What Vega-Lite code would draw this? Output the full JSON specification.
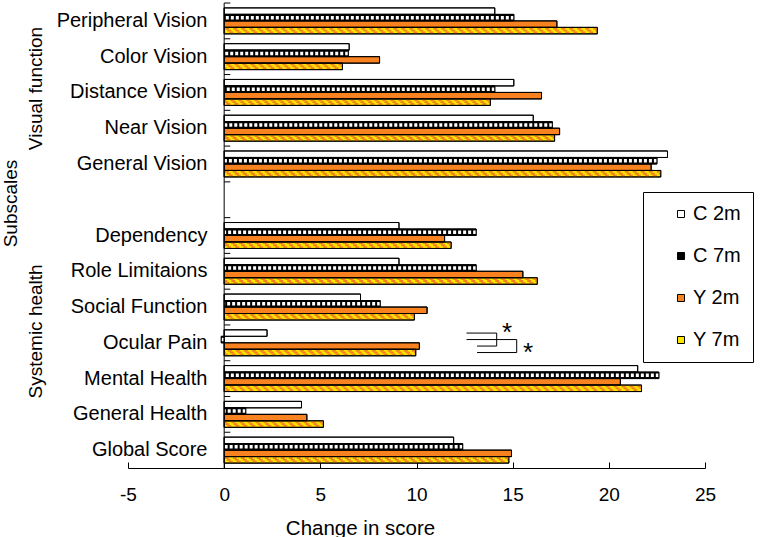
{
  "$schema": "https://vega.github.io/schema/vega-lite/v6.json",
  "width": 577,
  "height": 465,
  "autosize": {"type": "none"},
  "padding": {"left": 128, "top": 3, "right": 63, "bottom": 69},
  "background": "white",
  "config": {
    "view": {"stroke": null},
    "font": "Liberation Sans",
    "axis": {"labelColor": "black", "titleColor": "black", "domainColor": "black", "tickColor": "black", "grid": false, "labelFont": "Liberation Sans", "titleFont": "Liberation Sans"}
  },
  "datasets": {
    "scores": [
      {"subscale": "Peripheral Vision", "group": "C 2m", "change": 14.07},
      {"subscale": "Peripheral Vision", "group": "C 7m", "change": 15.06},
      {"subscale": "Peripheral Vision", "group": "Y 2m", "change": 17.3},
      {"subscale": "Peripheral Vision", "group": "Y 7m", "change": 19.4},
      {"subscale": "Color Vision", "group": "C 2m", "change": 6.5},
      {"subscale": "Color Vision", "group": "C 7m", "change": 6.45},
      {"subscale": "Color Vision", "group": "Y 2m", "change": 8.08},
      {"subscale": "Color Vision", "group": "Y 7m", "change": 6.15},
      {"subscale": "Distance Vision", "group": "C 2m", "change": 15.06},
      {"subscale": "Distance Vision", "group": "C 7m", "change": 14.07},
      {"subscale": "Distance Vision", "group": "Y 2m", "change": 16.5},
      {"subscale": "Distance Vision", "group": "Y 7m", "change": 13.84},
      {"subscale": "Near Vision", "group": "C 2m", "change": 16.07},
      {"subscale": "Near Vision", "group": "C 7m", "change": 17.06},
      {"subscale": "Near Vision", "group": "Y 2m", "change": 17.44},
      {"subscale": "Near Vision", "group": "Y 7m", "change": 17.18},
      {"subscale": "General Vision", "group": "C 2m", "change": 23.05},
      {"subscale": "General Vision", "group": "C 7m", "change": 22.5},
      {"subscale": "General Vision", "group": "Y 2m", "change": 22.2},
      {"subscale": "General Vision", "group": "Y 7m", "change": 22.7},
      {"subscale": "Dependency", "group": "C 2m", "change": 9.09},
      {"subscale": "Dependency", "group": "C 7m", "change": 13.1},
      {"subscale": "Dependency", "group": "Y 2m", "change": 11.46},
      {"subscale": "Dependency", "group": "Y 7m", "change": 11.8},
      {"subscale": "Role Limitaions", "group": "C 2m", "change": 9.09},
      {"subscale": "Role Limitaions", "group": "C 7m", "change": 13.1},
      {"subscale": "Role Limitaions", "group": "Y 2m", "change": 15.53},
      {"subscale": "Role Limitaions", "group": "Y 7m", "change": 16.28},
      {"subscale": "Social Function", "group": "C 2m", "change": 7.09},
      {"subscale": "Social Function", "group": "C 7m", "change": 8.11},
      {"subscale": "Social Function", "group": "Y 2m", "change": 10.55},
      {"subscale": "Social Function", "group": "Y 7m", "change": 9.89},
      {"subscale": "Ocular Pain", "group": "C 2m", "change": 2.23},
      {"subscale": "Ocular Pain", "group": "C 7m", "change": -0.15},
      {"subscale": "Ocular Pain", "group": "Y 2m", "change": 10.15},
      {"subscale": "Ocular Pain", "group": "Y 7m", "change": 9.96},
      {"subscale": "Mental Health", "group": "C 2m", "change": 21.5},
      {"subscale": "Mental Health", "group": "C 7m", "change": 22.6},
      {"subscale": "Mental Health", "group": "Y 2m", "change": 20.6},
      {"subscale": "Mental Health", "group": "Y 7m", "change": 21.7},
      {"subscale": "General Health", "group": "C 2m", "change": 4.02},
      {"subscale": "General Health", "group": "C 7m", "change": 1.12},
      {"subscale": "General Health", "group": "Y 2m", "change": 4.3},
      {"subscale": "General Health", "group": "Y 7m", "change": 5.16},
      {"subscale": "Global Score", "group": "C 2m", "change": 11.93},
      {"subscale": "Global Score", "group": "C 7m", "change": 12.4},
      {"subscale": "Global Score", "group": "Y 2m", "change": 14.94},
      {"subscale": "Global Score", "group": "Y 7m", "change": 14.8}
    ],
    "rows": [
      {"subscale": "Peripheral Vision"}, {"subscale": "Color Vision"}, {"subscale": "Distance Vision"}, {"subscale": "Near Vision"}, {"subscale": "General Vision"}, {"subscale": " "}, {"subscale": "Dependency"}, {"subscale": "Role Limitaions"}, {"subscale": "Social Function"}, {"subscale": "Ocular Pain"}, {"subscale": "Mental Health"}, {"subscale": "General Health"}, {"subscale": "Global Score"}
    ],
    "brackets": [
      {"pair": "2m", "step": 1, "subscale": "Ocular Pain", "group": "C 2m", "change": 12.6},
      {"pair": "2m", "step": 2, "subscale": "Ocular Pain", "group": "C 2m", "change": 14.17},
      {"pair": "2m", "step": 3, "subscale": "Ocular Pain", "group": "Y 2m", "change": 14.17},
      {"pair": "2m", "step": 4, "subscale": "Ocular Pain", "group": "Y 2m", "change": 13.15},
      {"pair": "7m", "step": 1, "subscale": "Ocular Pain", "group": "C 7m", "change": 12.6},
      {"pair": "7m", "step": 2, "subscale": "Ocular Pain", "group": "C 7m", "change": 15.21},
      {"pair": "7m", "step": 3, "subscale": "Ocular Pain", "group": "Y 7m", "change": 15.21},
      {"pair": "7m", "step": 4, "subscale": "Ocular Pain", "group": "Y 7m", "change": 13.15}
    ],
    "stars": [
      {"subscale": "Ocular Pain", "group": "C 2m", "change": 14.71, "mark": "*"},
      {"subscale": "Ocular Pain", "group": "Y 7m", "change": 15.8, "mark": "*"}
    ]
  },
  "layer": [
    {
      "data": {"name": "scores"},
      "mark": {"type": "bar", "stroke": "black", "strokeWidth": 1},
      "encoding": {
        "y": {
          "field": "subscale", "type": "nominal",
          "scale": {"domain": ["Peripheral Vision", "Color Vision", "Distance Vision", "Near Vision", "General Vision", " ", "Dependency", "Role Limitaions", "Social Function", "Ocular Pain", "Mental Health", "General Health", "Global Score"], "paddingInner": 0.274, "paddingOuter": 0.137},
          "axis": {"title": "Subscales", "offset": -96, "domain": false, "ticks": false, "labelPadding": 17, "labelFontSize": 20, "labelLimit": 300, "titleFontSize": 19, "titleFontWeight": "normal", "titleX": -214, "titleY": 200, "titleAngle": 270, "titleAlign": "center", "titleBaseline": "middle"}
        },
        "yOffset": {"field": "group", "type": "nominal", "scale": {"domain": ["C 2m", "C 7m", "Y 2m", "Y 7m"], "paddingInner": 0, "paddingOuter": 0}},
        "x": {
          "field": "change", "type": "quantitative",
          "scale": {"domain": [-5, 25], "nice": false, "zero": false},
          "axis": {"title": "Change in score", "values": [-5, 0, 5, 10, 15, 20, 25], "labelExpr": "datum.value", "tickSize": -6, "labelPadding": 23, "labelFontSize": 19, "labelFlush": false, "labelOverlap": false, "titleFontSize": 20.5, "titleFontWeight": "normal", "titleX": 232, "titleY": 60, "titleBaseline": "middle"}
        },
        "x2": {"datum": 0},
        "fill": {
          "field": "group", "type": "nominal",
          "scale": {"domain": ["C 2m", "C 7m", "Y 2m", "Y 7m"], "range": ["white", "black", "#F7821F", "#FFE600"]},
          "legend": {"title": null, "orient": "none", "legendX": 515, "legendY": 189, "strokeColor": "black", "fillColor": "white", "padding": 12, "symbolType": "square", "symbolSize": 49, "symbolStrokeColor": "black", "symbolStrokeWidth": 1, "symbolOffset": 16, "labelFontSize": 20, "labelColor": "black", "labelOffset": 2, "rowPadding": 22, "labelExpr": "datum.label + '    '"}
        }
      }
    },
    {
      "data": {"name": "scores"},
      "transform": [{"filter": "datum.group === 'C 7m'"}],
      "mark": {"type": "rule", "stroke": "white", "strokeWidth": 3.5, "strokeDash": [3, 2], "strokeDashOffset": 0},
      "encoding": {
        "y": {"field": "subscale", "type": "nominal"},
        "yOffset": {"field": "group", "type": "nominal"},
        "x": {"field": "change", "type": "quantitative"},
        "x2": {"datum": 0}
      }
    },
    {
      "data": {"name": "scores"},
      "transform": [{"filter": "datum.group === 'Y 7m'"}],
      "mark": {"type": "rule", "stroke": "#F0821E", "strokeWidth": 1.9, "strokeDash": [4, 4], "strokeDashOffset": 0, "yOffset": 7.9},
      "encoding": {"y": {"field": "subscale", "type": "nominal"}, "x": {"field": "change", "type": "quantitative"}, "x2": {"datum": 0}}
    },
    {
      "data": {"name": "scores"},
      "transform": [{"filter": "datum.group === 'Y 7m'"}],
      "mark": {"type": "rule", "stroke": "#F0821E", "strokeWidth": 1.9, "strokeDash": [4, 4], "strokeDashOffset": 2, "yOffset": 9.75},
      "encoding": {"y": {"field": "subscale", "type": "nominal"}, "x": {"field": "change", "type": "quantitative"}, "x2": {"datum": 0}}
    },
    {
      "data": {"name": "scores"},
      "transform": [{"filter": "datum.group === 'Y 7m'"}],
      "mark": {"type": "rule", "stroke": "#F0821E", "strokeWidth": 1.9, "strokeDash": [4, 4], "strokeDashOffset": 4, "yOffset": 11.6},
      "encoding": {"y": {"field": "subscale", "type": "nominal"}, "x": {"field": "change", "type": "quantitative"}, "x2": {"datum": 0}}
    },
    {
      "data": {"name": "scores"},
      "mark": {"type": "bar", "fill": "transparent", "stroke": "black", "strokeWidth": 1},
      "encoding": {
        "y": {"field": "subscale", "type": "nominal"},
        "yOffset": {"field": "group", "type": "nominal"},
        "x": {"field": "change", "type": "quantitative"},
        "x2": {"datum": 0}
      }
    },
    {
      "data": {"values": [{"zero": 0}]},
      "mark": {"type": "rule", "color": "black", "strokeWidth": 1},
      "encoding": {"x": {"field": "zero", "type": "quantitative"}}
    },
    {
      "data": {"name": "rows"},
      "mark": {"type": "rule", "color": "black", "strokeWidth": 1},
      "encoding": {
        "y": {"field": "subscale", "type": "nominal", "bandPosition": -0.188},
        "x": {"datum": 0},
        "x2": {"datum": 0.32}
      }
    },
    {
      "data": {"name": "brackets"},
      "mark": {"type": "line", "color": "black", "strokeWidth": 1},
      "encoding": {
        "y": {"field": "subscale", "type": "nominal"},
        "yOffset": {"field": "group", "type": "nominal"},
        "x": {"field": "change", "type": "quantitative"},
        "detail": {"field": "pair", "type": "nominal"},
        "order": {"field": "step", "type": "quantitative"}
      }
    },
    {
      "data": {"name": "stars"},
      "mark": {"type": "text", "fontSize": 26, "align": "center", "baseline": "middle", "color": "black"},
      "encoding": {
        "y": {"field": "subscale", "type": "nominal"},
        "yOffset": {"field": "group", "type": "nominal"},
        "x": {"field": "change", "type": "quantitative"},
        "text": {"field": "mark", "type": "nominal"}
      }
    },
    {
      "data": {"values": [{"label": "Visual function", "subscale": "Distance Vision"}]},
      "mark": {"type": "text", "angle": 270, "fontSize": 19, "align": "center", "baseline": "middle", "color": "black"},
      "encoding": {
        "text": {"field": "label", "type": "nominal"},
        "x": {"datum": -9.8},
        "y": {"field": "subscale", "type": "nominal", "bandPosition": 0.35}
      }
    },
    {
      "data": {"values": [{"label": "Systemic health", "subscale": "Ocular Pain"}]},
      "mark": {"type": "text", "angle": 270, "fontSize": 19, "align": "center", "baseline": "middle", "color": "black"},
      "encoding": {
        "text": {"field": "label", "type": "nominal"},
        "x": {"datum": -9.8},
        "y": {"field": "subscale", "type": "nominal", "bandPosition": 0.06}
      }
    }
  ]
}
